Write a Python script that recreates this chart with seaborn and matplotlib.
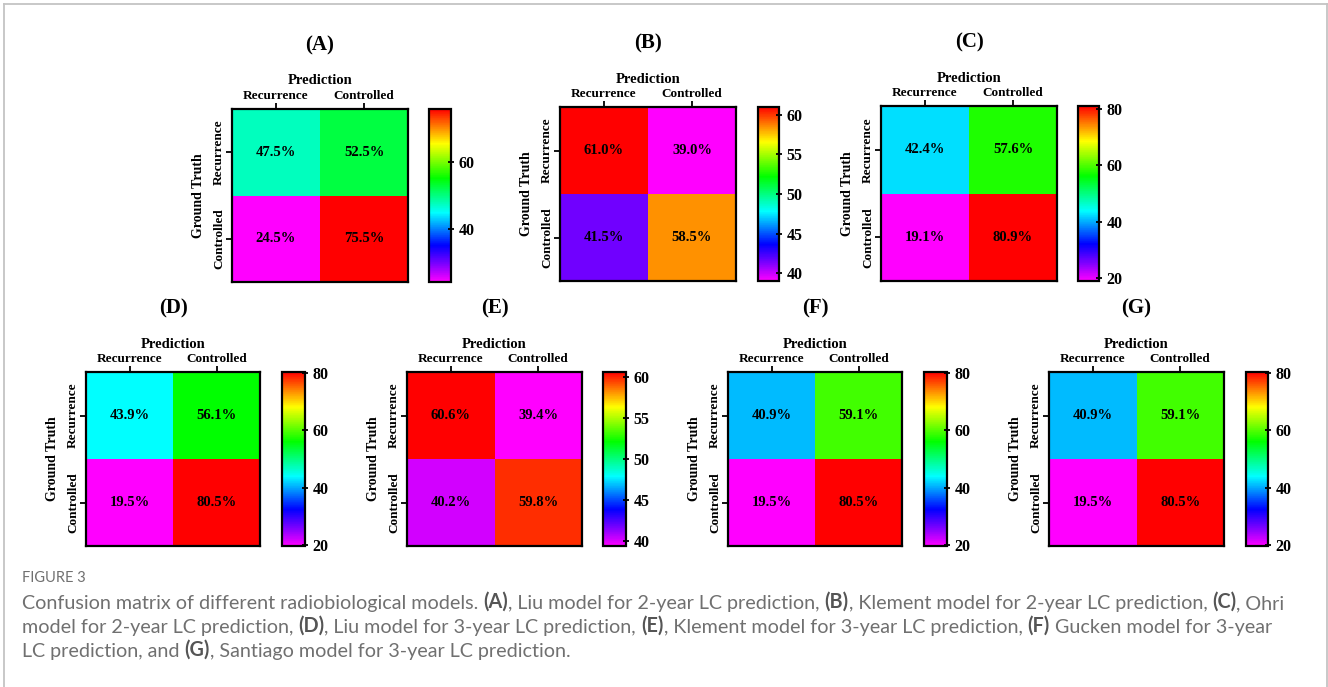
import numpy as np
import pandas as pd
import matplotlib
matplotlib.use("Agg")
import matplotlib.pyplot as plt
import seaborn as sns
from matplotlib.colors import LinearSegmentedColormap
from matplotlib.lines import Line2D

# ---------------- data ----------------
pred_labels = ["Recurrence", "Controlled"]
truth_labels = ["Recurrence", "Controlled"]
panel_ids = ["A", "B", "C", "D", "E", "F", "G"]

vals_A = [[47.5, 52.5], [24.5, 75.5]]
vals_B = [[61.0, 39.0], [41.5, 58.5]]
vals_C = [[42.4, 57.6], [19.1, 80.9]]
vals_D = [[43.9, 56.1], [19.5, 80.5]]
vals_E = [[60.6, 39.4], [40.2, 59.8]]
vals_F = [[40.9, 59.1], [19.5, 80.5]]
vals_G = [[40.9, 59.1], [19.5, 80.5]]

ticks_A = [40, 60]
ticks_B = [40, 45, 50, 55, 60]
ticks_C = [20, 40, 60, 80]
ticks_D = [20, 40, 60, 80]
ticks_E = [40, 45, 50, 55, 60]
ticks_F = [20, 40, 60, 80]
ticks_G = [20, 40, 60, 80]

caption_title = "FIGURE 3"
caption_lines = [
    [("Confusion matrix of different radiobiological models. ", False), ("(A)", True),
     (", Liu model for 2-year LC prediction, ", False), ("(B)", True),
     (", Klement model for 2-year LC prediction, ", False), ("(C)", True), (", Ohri", False)],
    [("model for 2-year LC prediction, ", False), ("(D)", True),
     (", Liu model for 3-year LC prediction, ", False), ("(E)", True),
     (", Klement model for 3-year LC prediction, ", False), ("(F)", True),
     (" Gucken model for 3-year", False)],
    [("LC prediction, and ", False), ("(G)", True),
     (", Santiago model for 3-year LC prediction.", False)],
]

values = [vals_A, vals_B, vals_C, vals_D, vals_E, vals_F, vals_G]
ticks = [ticks_A, ticks_B, ticks_C, ticks_D, ticks_E, ticks_F, ticks_G]

# ---------------- layout (pixels) ----------------
W, H = 1328, 687
# heatmap (x0, x1, y0, y1), colorbar (x0, x1)
layout = [
    ((232, 408, 109, 282), (429, 451)),
    ((560, 736, 107, 281), (758, 779)),
    ((881, 1057, 106, 281), (1078, 1099)),
    ((86, 260, 372, 546), (282, 305)),
    ((407, 582, 372, 546), (603, 626)),
    ((728, 902, 372, 546), (924, 947)),
    ((1049, 1224, 372, 546), (1246, 1268)),
]


def rect(x0, x1, y0, y1):
    return [x0 / W, 1 - y1 / H, (x1 - x0) / W, (y1 - y0) / H]


cmap = LinearSegmentedColormap.from_list(
    "prism_rainbow",
    [(0.0, (1, 0, 1)), (0.1, (0.5, 0, 1)), (0.21, (0, 0, 1)), (0.4, (0, 1, 1)),
     (0.6, (0, 1, 0)), (0.8, (1, 1, 0)), (1.0, (1, 0, 0))],
)

plt.rcParams["font.family"] = ["Liberation Serif", "DejaVu Serif"]
plt.rcParams["font.weight"] = "bold"
plt.rcParams["axes.labelweight"] = "bold"

fig = plt.figure(figsize=(W / 100, H / 100), dpi=100)
fig.patch.set_facecolor("white")

for pid, vals, tks, ((hx0, hx1, hy0, hy1), (cx0, cx1)) in zip(panel_ids, values, ticks, layout):
    ax = fig.add_axes(rect(hx0, hx1, hy0, hy1))
    cax = fig.add_axes(rect(cx0, cx1, hy0, hy1))
    df = pd.DataFrame(vals, index=truth_labels, columns=pred_labels)
    annot = np.array([[f"{v:.1f}%" for v in row] for row in vals])
    vmin, vmax = float(np.min(vals)), float(np.max(vals))
    sns.heatmap(df, ax=ax, cbar_ax=cax, cmap=cmap, vmin=vmin, vmax=vmax,
                annot=annot, fmt="", linewidths=0,
                annot_kws=dict(size=10.5, weight="bold", color="black"),
                cbar_kws=dict(ticks=tks))
    for s in ax.spines.values():
        s.set_visible(True)
        s.set_linewidth(1.6)
        s.set_color("black")
    ax.xaxis.tick_top()
    ax.xaxis.set_label_position("top")
    ax.tick_params(axis="x", length=4, width=1.3, pad=1, labelsize=9.5, rotation=0)
    ax.tick_params(axis="y", length=4, width=1.3, pad=1, labelsize=9.5)
    plt.setp(ax.get_yticklabels(), rotation=90, va="center", fontweight="bold")
    plt.setp(ax.get_xticklabels(), fontweight="bold")
    ax.set_xlabel("Prediction", fontsize=10.5, fontweight="bold", labelpad=4)
    ax.set_ylabel("Ground Truth", fontsize=10, fontweight="bold", labelpad=6)
    h = hy1 - hy0
    ax.text(0.5, 1 + 64 / h, f"({pid})", transform=ax.transAxes, ha="center", va="center",
            fontsize=15, fontweight="bold")

    cb = ax.collections[0].colorbar
    cb.outline.set_visible(True)
    cb.outline.set_linewidth(1.6)
    cb.outline.set_edgecolor("black")
    cax.tick_params(length=5, width=1.3, direction="inout", labelsize=11.5, pad=3)
    plt.setp(cax.get_yticklabels(), fontweight="bold")

# ---------------- frame ----------------
frame_col = "#c4c4c4"
fig.add_artist(Line2D([4 / W, 4 / W], [0, 1 - 4 / H], color=frame_col, lw=1.3))
fig.add_artist(Line2D([4 / W, 1327 / W], [1 - 4 / H, 1 - 4 / H], color=frame_col, lw=1.3))
fig.add_artist(Line2D([1327 / W, 1327 / W], [0, 1 - 4 / H], color=frame_col, lw=1.3))

# ---------------- caption ----------------
cap_ax = fig.add_axes([0, 0, 1, 1])
cap_ax.axis("off")
cap_ax.set_xlim(0, 1)
cap_ax.set_ylim(0, 1)
cap_font = ["Lato", "DejaVu Sans"]
cap_col = "#707070"
bold_col = "#555555"
cap_ax.text(22 / W, 1 - 578 / H, caption_title, fontsize=10.5, color=cap_col,
            family=cap_font, fontweight="normal", va="center", ha="left",
            transform=cap_ax.transAxes)
line_bottom = [612, 636, 660]
for segs, yb in zip(caption_lines, line_bottom):
    prev = None
    for txt, bold in segs:
        kw = dict(fontsize=14.2, color=(bold_col if bold else cap_col), family=cap_font,
                  fontweight=("bold" if bold else "normal"), va="bottom", ha="left")
        if prev is None:
            prev = cap_ax.text(22 / W, 1 - yb / H, txt, transform=cap_ax.transAxes, **kw)
        else:
            prev = cap_ax.annotate(txt, xy=(1, 0), xycoords=prev, **kw)

fig.savefig("out.png", dpi=100, facecolor="white")
